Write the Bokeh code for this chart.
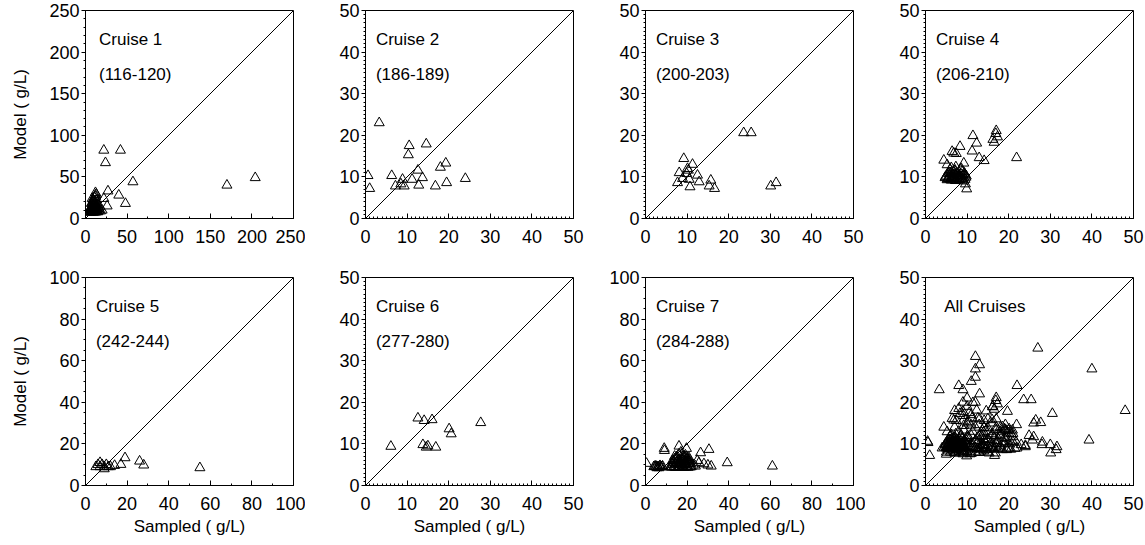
from bokeh.plotting import figure
from bokeh.layouts import column, row
from bokeh.models import Range1d, Slope, SingleIntervalTicker, Label
from bokeh.embed import file_html
from bokeh.resources import INLINE

FONT = "Liberation Sans"

# ---- data (Sampled, Model) ----
c1_x = [22, 42, 24, 57, 170, 204, 40, 48, 27, 26, 12, 13, 12, 22,
        5, 6, 7, 8, 9, 10, 11, 12, 14, 15, 16, 18, 20,
        6, 8, 10, 12, 14, 7, 9, 11, 13, 15, 17, 8, 10, 12, 9, 11, 13,
        5, 6, 7, 8, 9, 10, 11, 12, 13, 14, 6, 8, 10, 12, 14, 16,
        7, 9, 11, 13, 8, 10, 12, 9, 11]
c1_y = [82, 82, 67, 44, 40, 49, 28, 18, 33, 15, 31, 29, 28, 24,
        8, 9, 8, 10, 9, 8, 10, 9, 11, 8, 10, 9, 10,
        12, 13, 15, 14, 12, 18, 20, 17, 22, 16, 14, 24, 21, 26, 10, 12, 9,
        7.5, 8, 7.8, 8.2, 7.6, 8.1, 7.7, 8, 7.9, 8.3, 11, 10.5, 11.5, 10.8, 11.2, 12,
        14, 15.5, 14.5, 16, 18.5, 19, 20, 23, 25]

c2_x = [0.6, 1.0, 3.3, 6.3, 7.2, 8.5, 9.3, 8.9, 10.5, 10.3, 11.2, 12.6,
        12.8, 13.7, 14.6, 16.8, 18.0, 19.3, 19.5, 24.0]
c2_y = [10.3, 7.2, 23.0, 10.3, 7.8, 8.3, 7.8, 9.4, 17.5, 15.3, 9.4, 11.6,
        8.0, 9.8, 17.9, 7.8, 12.3, 13.3, 8.6, 9.6]

c3_x = [23.6, 25.4, 9.2, 11.3, 10.1, 8.1, 9.9, 12.5, 7.7, 8.9, 10.5, 10.7,
        12.9, 15.7, 15.3, 16.6, 30.1, 31.4, 10.3]
c3_y = [20.6, 20.6, 14.4, 13.0, 12.0, 11.0, 10.8, 10.4, 8.6, 9.6, 9.4, 7.6,
        8.8, 9.2, 7.8, 7.2, 7.8, 8.6, 11.6]

c4_x = [4.4, 5.2, 6.4, 6.8, 7.4, 8.3, 9.2, 11.2, 11.4, 12.3, 12.9, 14.1,
        16.5, 16.9, 17.3, 17.0, 16.2, 21.9, 9.6, 9.9,
        4.8, 5.5, 6.0, 6.5, 7.0, 7.5, 8.0, 8.5, 9.0, 5.2, 6.2, 7.2, 8.2,
        9.2, 5.8, 6.8, 7.8, 8.8, 9.5, 6.0, 7.0,
        5.0, 5.6, 6.3, 6.9, 7.6, 8.3, 9.0, 9.7, 5.3, 6.0, 6.7, 7.4, 8.1, 8.8,
        9.5, 5.5, 6.5, 7.5, 8.5, 9.3, 4.7, 5.9, 7.1, 8.4, 9.8, 6.2, 7.3, 8.6]
c4_y = [14.0, 12.9, 16.1, 15.7, 15.6, 17.3, 13.3, 16.2, 19.9, 18.1, 14.6, 13.9,
        18.3, 20.4, 19.6, 21.1, 19.0, 14.6, 8.3, 7.1,
        10.0, 9.6, 10.4, 9.8, 10.6, 9.9, 10.3, 10.0, 9.6, 9.3, 9.2, 9.1, 9.3,
        9.0, 11.0, 11.2, 10.8, 11.3, 10.6, 10.9, 11.5,
        10.2, 10.0, 9.8, 10.1, 9.7, 10.2, 10.4, 9.9, 9.5, 9.4, 9.6, 9.3, 9.5, 9.2,
        9.4, 10.8, 10.5, 10.9, 10.7, 10.9, 9.8, 11.8, 11.6, 11.9, 10.2, 12.2, 12.4, 12.0]

c5_x = [5, 6, 7, 8, 9, 10, 11, 12, 7, 9, 14, 17, 19, 26, 28, 55]
c5_y = [9, 10, 9, 10, 9, 10, 9, 9, 11, 8, 9.6, 10.1, 13.3, 11.7, 9.8, 8.5]

c6_x = [6.1, 12.6, 14.1, 16.0, 13.8, 14.6, 15.0, 16.9, 20.1, 20.6, 27.7]
c6_y = [9.4, 16.2, 15.6, 15.8, 9.8, 9.2, 9.5, 9.2, 13.6, 12.4, 15.1]

c7_x = [0.5, 4, 5, 6, 7, 8, 5.5, 6.5, 9.1, 9, 16.1, 19.7, 26.5, 30.5, 39.3, 61,
        12, 13, 14, 15, 16, 17, 18, 19, 20, 21, 22, 23, 24,
        13, 15, 17, 19, 21, 14, 16, 18, 20,
        19.2, 24.9, 25.7, 28.1, 30, 31.6, 17, 18.5, 20.9,
        4.5, 5.2, 6.0, 6.8, 7.5, 8.2, 12.5, 13.5, 14.5, 15.5, 16.5, 17.5, 18.5,
        19.5, 20.5, 21.5, 12.8, 14.2, 15.8, 17.2, 18.8, 20.2, 21.8, 13.5, 15,
        16.5, 18, 19.5, 21, 14, 16, 18, 20, 15, 17, 19]
c7_y = [10.6, 9, 9.3, 9, 9.5, 9, 8.5, 8.5, 16.8, 17.8, 18.9, 17.8, 15.7, 17.3, 10.9, 9.3,
        9, 10, 9, 11, 9, 10, 9.5, 10, 9, 10.5, 9, 9.8, 9.3,
        12, 13, 12, 11.5, 12.5, 14, 15, 14, 13.3,
        14.6, 12, 10.9, 10.4, 9.8, 9.3, 16, 14.1, 13.3,
        9.2, 9.0, 8.8, 9.2, 8.9, 9.3, 8.7, 8.9, 8.6, 8.8, 8.7, 8.9, 8.6,
        8.8, 8.7, 8.9, 10.8, 10.6, 10.4, 10.8, 10.5, 10.9, 10.4, 11.8, 11.2,
        11.6, 11.9, 11.3, 11.7, 12.8, 12.4, 12.9, 12.6, 13.8, 13.4, 13.6]

all_x = c1_x + c2_x + c3_x + c4_x + c5_x + c6_x + c7_x
all_y = c1_y + c2_y + c3_y + c4_y + c5_y + c6_y + c7_y

titles = ["Cruise 1", "Cruise 2", "Cruise 3", "Cruise 4",
          "Cruise 5", "Cruise 6", "Cruise 7", "All Cruises"]
days = ["(116-120)", "(186-189)", "(200-203)", "(206-210)",
        "(242-244)", "(277-280)", "(284-288)", ""]
xs = [c1_x, c2_x, c3_x, c4_x, c5_x, c6_x, c7_x, all_x]
ys = [c1_y, c2_y, c3_y, c4_y, c5_y, c6_y, c7_y, all_y]
axis_max = [250, 50, 50, 50, 100, 50, 100, 50]
major_step = {250: 50, 50: 10, 100: 20}
minor_left = {250: 5, 50: 10, 100: 4}
minor_bottom = {250: 2, 50: 10, 100: 2}
title_dx = [0.065, 0.05, 0.05, 0.05, 0.05, 0.05, 0.05, 0.09]


def make(i):
    r, c = divmod(i, 4)
    m = axis_max[i]
    left = 85 if c == 0 else 60
    right = 12
    top = 10
    bottom = 49 if r == 0 else 60
    w = left + 208 + right
    h = top + 208 + bottom
    p = figure(width=w, height=h, output_backend="svg", toolbar_location=None,
               x_range=Range1d(0, m), y_range=Range1d(0, m),
               min_border_left=left, min_border_right=right,
               min_border_top=top, min_border_bottom=bottom)
    p.xgrid.visible = False
    p.ygrid.visible = False
    p.outline_line_color = "black"
    p.outline_line_width = 1
    p.background_fill_color = "white"
    p.border_fill_color = "white"

    xa = p.xaxis[0]
    ya = p.yaxis[0]
    xa.ticker = SingleIntervalTicker(interval=major_step[m], num_minor_ticks=minor_bottom[m])
    ya.ticker = SingleIntervalTicker(interval=major_step[m], num_minor_ticks=minor_left[m])
    for ax in (xa, ya):
        ax.axis_line_color = "black"
        ax.major_tick_line_color = "black"
        ax.minor_tick_line_color = "black"
        ax.major_label_text_font = FONT
        ax.major_label_text_font_size = "18px"
        ax.major_label_text_color = "black"
        ax.axis_label_text_font = FONT
        ax.axis_label_text_font_size = "17px"
        ax.axis_label_text_font_style = "normal"
        ax.axis_label_text_color = "black"
    xa.major_tick_in = 5
    xa.major_tick_out = 0
    xa.minor_tick_in = 2
    xa.minor_tick_out = 0
    xa.major_label_standoff = 11
    ya.major_tick_in = 0
    ya.major_tick_out = 4
    ya.minor_tick_in = 0
    ya.minor_tick_out = 2
    ya.major_label_standoff = 2
    if c == 0:
        ya.axis_label = "Model ( g/L)"
        ya.axis_label_standoff = 16
    if r == 1:
        xa.axis_label = "Sampled ( g/L)"
        xa.axis_label_standoff = 4

    p.add_layout(Slope(gradient=1, y_intercept=0, line_color="black", line_width=1))
    p.scatter(xs[i], ys[i], marker="triangle", size=10, fill_color=None,
              line_color="black", line_width=1)

    p.add_layout(Label(x=m * title_dx[i], y=m * 0.86, text=titles[i],
                       text_font=FONT, text_font_size="17px",
                       text_baseline="middle", text_color="black"))
    if days[i]:
        p.add_layout(Label(x=m * title_dx[i], y=m * 0.69, text=days[i],
                           text_font=FONT, text_font_size="17px",
                           text_baseline="middle", text_color="black"))
    return p


figs = [make(i) for i in range(8)]
layout = column(row(*figs[:4], spacing=0), row(*figs[4:], spacing=0), spacing=0)

open("out.html", "w").write(file_html(layout, INLINE))
